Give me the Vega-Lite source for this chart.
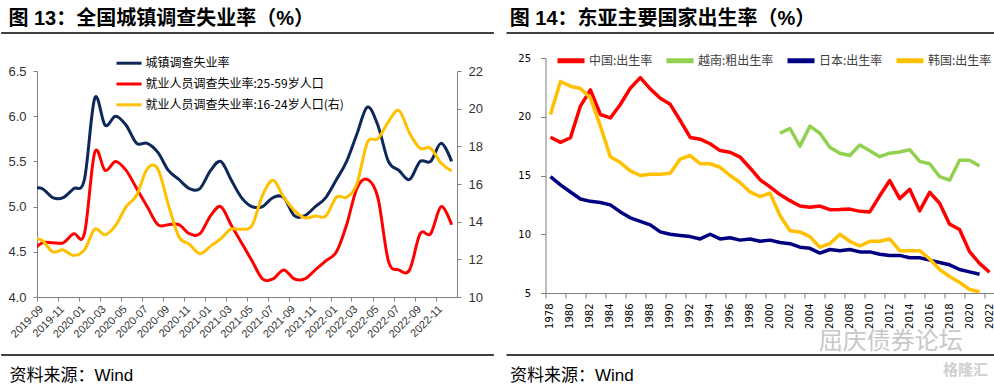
{
  "$schema": "https://vega.github.io/schema/vega-lite/v6.json",
  "background": "white",
  "padding": {"left": 0, "top": 9, "right": 0, "bottom": 0},
  "config": {"view": {"stroke": null}, "axis": {"grid": false, "labelOverlap": false}},
  "spacing": 10.5,
  "center": true,
  "resolve": {"scale": {"color": "independent"}, "legend": {"color": "independent"}},
  "datasets": {
    "unemp": [
      {"month": "2019-08", "urban": 5.2, "prime": 4.5, "youth": 13.1},
      {"month": "2019-09", "urban": 5.2, "prime": 4.6, "youth": 13.0},
      {"month": "2019-10", "urban": 5.1, "prime": 4.6, "youth": 12.4},
      {"month": "2019-11", "urban": 5.1, "prime": 4.6, "youth": 12.5},
      {"month": "2019-12", "urban": 5.2, "prime": 4.7, "youth": 12.2},
      {"month": "2020-01", "urban": 5.3, "prime": 4.7, "youth": 12.5},
      {"month": "2020-02", "urban": 6.2, "prime": 5.6, "youth": 13.6},
      {"month": "2020-03", "urban": 5.9, "prime": 5.4, "youth": 13.3},
      {"month": "2020-04", "urban": 6.0, "prime": 5.5, "youth": 13.8},
      {"month": "2020-05", "urban": 5.9, "prime": 5.4, "youth": 14.8},
      {"month": "2020-06", "urban": 5.7, "prime": 5.2, "youth": 15.4},
      {"month": "2020-07", "urban": 5.7, "prime": 5.0, "youth": 16.8},
      {"month": "2020-08", "urban": 5.6, "prime": 4.8, "youth": 16.8},
      {"month": "2020-09", "urban": 5.4, "prime": 4.8, "youth": 14.9},
      {"month": "2020-10", "urban": 5.3, "prime": 4.8, "youth": 13.2},
      {"month": "2020-11", "urban": 5.2, "prime": 4.7, "youth": 12.8},
      {"month": "2020-12", "urban": 5.2, "prime": 4.7, "youth": 12.3},
      {"month": "2021-01", "urban": 5.4, "prime": 4.9, "youth": 12.7},
      {"month": "2021-02", "urban": 5.5, "prime": 5.0, "youth": 13.1},
      {"month": "2021-03", "urban": 5.3, "prime": 4.8, "youth": 13.6},
      {"month": "2021-04", "urban": 5.1, "prime": 4.6, "youth": 13.6},
      {"month": "2021-05", "urban": 5.0, "prime": 4.4, "youth": 13.8},
      {"month": "2021-06", "urban": 5.0, "prime": 4.2, "youth": 15.4},
      {"month": "2021-07", "urban": 5.1, "prime": 4.2, "youth": 16.2},
      {"month": "2021-08", "urban": 5.1, "prime": 4.3, "youth": 15.3},
      {"month": "2021-09", "urban": 4.9, "prime": 4.2, "youth": 14.6},
      {"month": "2021-10", "urban": 4.9, "prime": 4.2, "youth": 14.2},
      {"month": "2021-11", "urban": 5.0, "prime": 4.3, "youth": 14.3},
      {"month": "2021-12", "urban": 5.1, "prime": 4.4, "youth": 14.3},
      {"month": "2022-01", "urban": 5.3, "prime": 4.5, "youth": 15.3},
      {"month": "2022-02", "urban": 5.5, "prime": 4.8, "youth": 15.3},
      {"month": "2022-03", "urban": 5.8, "prime": 5.2, "youth": 16.0},
      {"month": "2022-04", "urban": 6.1, "prime": 5.3, "youth": 18.2},
      {"month": "2022-05", "urban": 5.9, "prime": 5.1, "youth": 18.4},
      {"month": "2022-06", "urban": 5.5, "prime": 4.4, "youth": 19.3},
      {"month": "2022-07", "urban": 5.4, "prime": 4.3, "youth": 19.9},
      {"month": "2022-08", "urban": 5.3, "prime": 4.3, "youth": 18.7},
      {"month": "2022-09", "urban": 5.5, "prime": 4.7, "youth": 17.9},
      {"month": "2022-10", "urban": 5.5, "prime": 4.7, "youth": 17.9},
      {"month": "2022-11", "urban": 5.7, "prime": 5.0, "youth": 17.1},
      {"month": "2022-12", "urban": 5.5, "prime": 4.8, "youth": 16.7}
    ],
    "birth": [
      {"year": 1978, "china": 18.25, "japan": 14.9, "korea": 20.2},
      {"year": 1979, "china": 17.82, "japan": 14.2, "korea": 23.0},
      {"year": 1980, "china": 18.21, "japan": 13.6, "korea": 22.6},
      {"year": 1981, "china": 20.91, "japan": 13.0, "korea": 22.4},
      {"year": 1982, "china": 22.28, "japan": 12.8, "korea": 21.6},
      {"year": 1983, "china": 20.19, "japan": 12.7, "korea": 19.2},
      {"year": 1984, "china": 19.9, "japan": 12.5, "korea": 16.6},
      {"year": 1985, "china": 21.04, "japan": 11.9, "korea": 16.1},
      {"year": 1986, "china": 22.43, "japan": 11.4, "korea": 15.4},
      {"year": 1987, "china": 23.33, "japan": 11.1, "korea": 15.0},
      {"year": 1988, "china": 22.37, "japan": 10.8, "korea": 15.1},
      {"year": 1989, "china": 21.58, "japan": 10.2, "korea": 15.1},
      {"year": 1990, "china": 21.06, "japan": 10.0, "korea": 15.2},
      {"year": 1991, "china": 19.68, "japan": 9.9, "korea": 16.4},
      {"year": 1992, "china": 18.24, "japan": 9.8, "korea": 16.7},
      {"year": 1993, "china": 18.09, "japan": 9.6, "korea": 16.0},
      {"year": 1994, "china": 17.7, "japan": 10.0, "korea": 16.0},
      {"year": 1995, "china": 17.12, "japan": 9.6, "korea": 15.7},
      {"year": 1996, "china": 16.98, "japan": 9.7, "korea": 15.0},
      {"year": 1997, "china": 16.57, "japan": 9.5, "korea": 14.4},
      {"year": 1998, "china": 15.64, "japan": 9.6, "korea": 13.6},
      {"year": 1999, "china": 14.64, "japan": 9.4, "korea": 13.2},
      {"year": 2000, "china": 14.03, "japan": 9.5, "korea": 13.5},
      {"year": 2001, "china": 13.38, "japan": 9.3, "korea": 11.6, "vietnam": 18.6},
      {"year": 2002, "china": 12.86, "japan": 9.2, "korea": 10.3, "vietnam": 19.0},
      {"year": 2003, "china": 12.41, "japan": 8.9, "korea": 10.2, "vietnam": 17.5},
      {"year": 2004, "china": 12.29, "japan": 8.8, "korea": 9.8, "vietnam": 19.2},
      {"year": 2005, "china": 12.4, "japan": 8.4, "korea": 8.9, "vietnam": 18.6},
      {"year": 2006, "china": 12.09, "japan": 8.7, "korea": 9.2, "vietnam": 17.4},
      {"year": 2007, "china": 12.1, "japan": 8.6, "korea": 10.0, "vietnam": 16.9},
      {"year": 2008, "china": 12.14, "japan": 8.7, "korea": 9.4, "vietnam": 16.7},
      {"year": 2009, "china": 11.95, "japan": 8.5, "korea": 9.0, "vietnam": 17.6},
      {"year": 2010, "china": 11.9, "japan": 8.5, "korea": 9.4, "vietnam": 17.1},
      {"year": 2011, "china": 13.27, "japan": 8.3, "korea": 9.4, "vietnam": 16.6},
      {"year": 2012, "china": 14.57, "japan": 8.2, "korea": 9.6, "vietnam": 16.9},
      {"year": 2013, "china": 13.03, "japan": 8.2, "korea": 8.6, "vietnam": 17.0},
      {"year": 2014, "china": 13.83, "japan": 8.0, "korea": 8.6, "vietnam": 17.2},
      {"year": 2015, "china": 11.99, "japan": 8.0, "korea": 8.6, "vietnam": 16.2},
      {"year": 2016, "china": 13.57, "japan": 7.8, "korea": 7.9, "vietnam": 16.0},
      {"year": 2017, "china": 12.64, "japan": 7.6, "korea": 7.0, "vietnam": 14.9},
      {"year": 2018, "china": 10.86, "japan": 7.4, "korea": 6.4, "vietnam": 14.6},
      {"year": 2019, "china": 10.41, "japan": 7.0, "korea": 5.9, "vietnam": 16.3},
      {"year": 2020, "china": 8.52, "japan": 6.8, "korea": 5.3, "vietnam": 16.3},
      {"year": 2021, "china": 7.52, "japan": 6.6, "korea": 5.1, "vietnam": 15.8},
      {"year": 2022, "china": 6.77}
    ]
  },
  "hconcat": [
    {
      "width": 420,
      "height": 226,
      "data": {"name": "unemp"},
      "title": {"text": "图 13：全国城镇调查失业率（%）", "anchor": "start", "frame": "bounds", "font": "Liberation Sans, Noto Sans CJK SC", "fontSize": 20, "fontWeight": "bold", "color": "black", "baseline": "alphabetic", "offset": -13, "dx": 8},
      "layer": [
        {
          "layer": [
            {
              "transform": [{"fold": ["urban", "prime"], "as": ["series", "value"]}],
              "mark": {"type": "line", "interpolate": "cardinal", "strokeWidth": 3, "strokeJoin": "round", "clip": true},
              "encoding": {
                "x": {
                  "field": "month", "type": "temporal", "timeUnit": "utcyearmonth", "bandPosition": 0.5,
                  "scale": {"type": "utc", "domain": [{"year": 2019, "month": 9, "date": 1, "utc": true}, {"year": 2023, "month": 1, "date": 1, "utc": true}], "nice": false},
                  "axis": {
                    "values": [
                      {"year": 2019, "month": 9, "date": 1, "utc": true}, {"year": 2019, "month": 11, "date": 1, "utc": true},
                      {"year": 2020, "month": 1, "date": 1, "utc": true}, {"year": 2020, "month": 3, "date": 1, "utc": true},
                      {"year": 2020, "month": 5, "date": 1, "utc": true}, {"year": 2020, "month": 7, "date": 1, "utc": true},
                      {"year": 2020, "month": 9, "date": 1, "utc": true}, {"year": 2020, "month": 11, "date": 1, "utc": true},
                      {"year": 2021, "month": 1, "date": 1, "utc": true}, {"year": 2021, "month": 3, "date": 1, "utc": true},
                      {"year": 2021, "month": 5, "date": 1, "utc": true}, {"year": 2021, "month": 7, "date": 1, "utc": true},
                      {"year": 2021, "month": 9, "date": 1, "utc": true}, {"year": 2021, "month": 11, "date": 1, "utc": true},
                      {"year": 2022, "month": 1, "date": 1, "utc": true}, {"year": 2022, "month": 3, "date": 1, "utc": true},
                      {"year": 2022, "month": 5, "date": 1, "utc": true}, {"year": 2022, "month": 7, "date": 1, "utc": true},
                      {"year": 2022, "month": 9, "date": 1, "utc": true}, {"year": 2022, "month": 11, "date": 1, "utc": true}
                    ],
                    "tickCount": 100,
                    "format": "%Y-%m", "labelAngle": -45, "labelFont": "Liberation Sans", "labelFontSize": 11, "labelColor": "#333333", "labelPadding": 2, "labelOverlap": false, "labelFlush": false,
                    "domainColor": "#7f7f7f", "tickColor": "#7f7f7f", "tickSize": 4,
                    "title": "资料来源：Wind", "titleFont": "Liberation Sans, Noto Sans CJK SC", "titleFontSize": 17, "titleFontWeight": "normal", "titleColor": "black",
                    "titleX": -28, "titleY": 83, "titleAlign": "left", "titleBaseline": "alphabetic", "titleAngle": 0
                  }
                },
                "y": {
                  "field": "value", "type": "quantitative",
                  "scale": {"domain": [4, 6.5], "nice": false, "zero": false},
                  "axis": {"values": [4, 4.5, 5, 5.5, 6, 6.5], "tickCount": 100, "format": ".1f", "labelFont": "Liberation Sans", "labelFontSize": 13, "labelColor": "#333333", "labelPadding": 7, "domainColor": "#7f7f7f", "tickColor": "#7f7f7f", "tickSize": 4, "title": null}
                },
                "color": {
                  "field": "series", "type": "nominal",
                  "scale": {"domain": ["urban", "prime", "youth"], "range": ["#0F285A", "#FF0000", "#FFC000"]},
                  "legend": {
                    "orient": "none", "legendX": 80.5, "legendY": -19.3, "direction": "vertical", "title": null, "padding": 0,
                    "symbolType": "M-1.25,0H1.25", "symbolSize": 400, "symbolStrokeWidth": 3,
                    "labelFont": "Noto Sans CJK SC", "labelFontSize": 12, "labelColor": "black", "labelOffset": 5, "rowPadding": 2.8, "labelLimit": 400,
                    "labelExpr": "datum.label == 'urban' ? '城镇调查失业率' : datum.label == 'prime' ? '就业人员调查失业率:25-59岁人口' : '就业人员调查失业率:16-24岁人口(右)'"
                  }
                }
              }
            },
            {
              "data": {"values": [{}]},
              "mark": {"type": "rule", "color": "black", "strokeWidth": 1.5, "clip": false},
              "encoding": {
                "x": {"datum": {"year": 2019, "month": 5, "date": 20, "utc": true}, "type": "temporal"},
                "x2": {"datum": {"year": 2023, "month": 4, "date": 18, "utc": true}},
                "y": {"datum": 6.92, "type": "quantitative"}
              }
            },
            {
              "data": {"values": [{}]},
              "mark": {"type": "rule", "color": "black", "strokeWidth": 1.5, "clip": false},
              "encoding": {
                "x": {"datum": {"year": 2019, "month": 5, "date": 20, "utc": true}, "type": "temporal"},
                "x2": {"datum": {"year": 2023, "month": 4, "date": 18, "utc": true}},
                "y": {"datum": 3.358, "type": "quantitative"}
              }
            }
          ]
        },
        {
          "transform": [{"fold": ["youth"], "as": ["series", "value"]}],
          "mark": {"type": "line", "interpolate": "cardinal", "strokeWidth": 3, "strokeJoin": "round", "clip": true},
          "encoding": {
            "x": {
              "field": "month", "type": "temporal", "timeUnit": "utcyearmonth", "bandPosition": 0.5,
              "scale": {"type": "utc", "domain": [{"year": 2019, "month": 9, "date": 1, "utc": true}, {"year": 2023, "month": 1, "date": 1, "utc": true}], "nice": false}
            },
            "y": {
              "field": "value", "type": "quantitative",
              "scale": {"domain": [10, 22], "nice": false, "zero": false},
              "axis": {"orient": "right", "values": [10, 12, 14, 16, 18, 20, 22], "tickCount": 100, "format": "d", "labelFont": "Liberation Sans", "labelFontSize": 13, "labelColor": "#333333", "labelPadding": 7, "domainColor": "#7f7f7f", "tickColor": "#7f7f7f", "tickSize": 4, "title": null}
            },
            "color": {
              "field": "series", "type": "nominal",
              "scale": {"domain": ["urban", "prime", "youth"], "range": ["#0F285A", "#FF0000", "#FFC000"]},
              "legend": {
                "orient": "none", "legendX": 80.5, "legendY": -19.3, "direction": "vertical", "title": null, "padding": 0,
                "symbolType": "M-1.25,0H1.25", "symbolSize": 400, "symbolStrokeWidth": 3,
                "labelFont": "Noto Sans CJK SC", "labelFontSize": 12, "labelColor": "black", "labelOffset": 5, "rowPadding": 2.8, "labelLimit": 400,
                "labelExpr": "datum.label == 'urban' ? '城镇调查失业率' : datum.label == 'prime' ? '就业人员调查失业率:25-59岁人口' : '就业人员调查失业率:16-24岁人口(右)'"
              }
            }
          }
        }
      ],
      "resolve": {"scale": {"y": "independent"}}
    },
    {
      "width": 449,
      "height": 235,
      "data": {"name": "birth"},
      "title": {"text": "图 14：东亚主要国家出生率（%）", "anchor": "start", "frame": "bounds", "font": "Liberation Sans, Noto Sans CJK SC", "fontSize": 20, "fontWeight": "bold", "color": "black", "baseline": "alphabetic", "offset": -13, "dx": 4},
      "layer": [
        {
          "transform": [{"fold": ["china", "vietnam", "japan", "korea"], "as": ["country", "rate"]}],
          "mark": {"type": "line", "strokeWidth": 3.5, "strokeJoin": "round"},
          "encoding": {
            "x": {
              "field": "year", "type": "quantitative",
              "scale": {"domain": [1977.5, 2022.5], "nice": false, "zero": false},
              "axis": {
                "values": [1978, 1980, 1982, 1984, 1986, 1988, 1990, 1992, 1994, 1996, 1998, 2000, 2002, 2004, 2006, 2008, 2010, 2012, 2014, 2016, 2018, 2020, 2022],
                "tickCount": 100,
                "format": "d", "tickOffset": -5, "labelOffset": 4.5, "labelAngle": -90, "labelFont": "DejaVu Sans", "labelFontSize": 10, "labelColor": "black", "labelPadding": 5, "labelOverlap": false, "labelFlush": false,
                "domainColor": "#7f7f7f", "tickColor": "#7f7f7f", "tickSize": 5,
                "title": ["资料来源：Wind", " "], "titleLineHeight": 13, "titleFont": "Liberation Sans, Noto Sans CJK SC", "titleFontSize": 17, "titleFontWeight": "normal", "titleColor": "black",
                "titleX": -36, "titleY": 87, "titleAlign": "left", "titleBaseline": "alphabetic", "titleAngle": 0
              }
            },
            "y": {
              "field": "rate", "type": "quantitative",
              "scale": {"domain": [5, 25], "nice": false, "zero": false},
              "axis": {"values": [5, 10, 15, 20, 25], "tickCount": 100, "format": "d", "labelFont": "DejaVu Sans", "labelFontSize": 10, "labelColor": "black", "labelPadding": 10, "domainColor": "#7f7f7f", "tickColor": "#7f7f7f", "tickSize": 5, "title": null}
            },
            "color": {
              "field": "country", "type": "nominal",
              "scale": {"domain": ["china", "vietnam", "japan", "korea"], "range": ["#FF0000", "#92D050", "#000080", "#FFC000"]},
              "legend": {
                "orient": "none", "legendX": 13, "legendY": -10, "direction": "horizontal", "title": null, "padding": 0,
                "symbolType": "M-1.35,0H1.35", "symbolSize": 400, "symbolStrokeWidth": 5,
                "labelFont": "Noto Sans CJK SC", "labelFontSize": 12, "labelColor": "#404040", "labelOffset": 5.5, "columnPadding": 4, "labelLimit": 300,
                "labelExpr": "datum.label == 'china' ? '中国:出生率' : datum.label == 'vietnam' ? '越南:粗出生率' : datum.label == 'japan' ? '日本:出生率' : '韩国:出生率'"
              }
            }
          }
        },
        {
          "data": {"values": [{}]},
          "mark": {"type": "rule", "color": "black", "strokeWidth": 1.5, "clip": false},
          "encoding": {
            "x": {"datum": 1973.59, "type": "quantitative"},
            "x2": {"datum": 2022.6},
            "y": {"datum": 27.128, "type": "quantitative"}
          }
        },
        {
          "data": {"values": [{}]},
          "mark": {"type": "rule", "color": "black", "strokeWidth": 1.5, "clip": false},
          "encoding": {
            "x": {"datum": 1973.59, "type": "quantitative"},
            "x2": {"datum": 2022.6},
            "y": {"datum": -0.277, "type": "quantitative"}
          }
        },
        {
          "data": {"values": [{}]},
          "mark": {"type": "text", "text": "屈庆债券论坛", "font": "Noto Sans CJK SC", "fontSize": 24, "color": "#c8c8c8", "align": "center", "baseline": "middle", "clip": false},
          "encoding": {
            "x": {"datum": 2012.1, "type": "quantitative"},
            "y": {"datum": 0.83, "type": "quantitative"}
          }
        },
        {
          "data": {"values": [{}]},
          "mark": {"type": "text", "text": "格隆汇", "font": "Noto Sans CJK SC", "fontSize": 15, "fontWeight": "bold", "color": "#cfcfcf", "align": "center", "baseline": "middle", "clip": false},
          "encoding": {
            "x": {"datum": 2019.6, "type": "quantitative"},
            "y": {"datum": -1.55, "type": "quantitative"}
          }
        }
      ]
    }
  ]
}
